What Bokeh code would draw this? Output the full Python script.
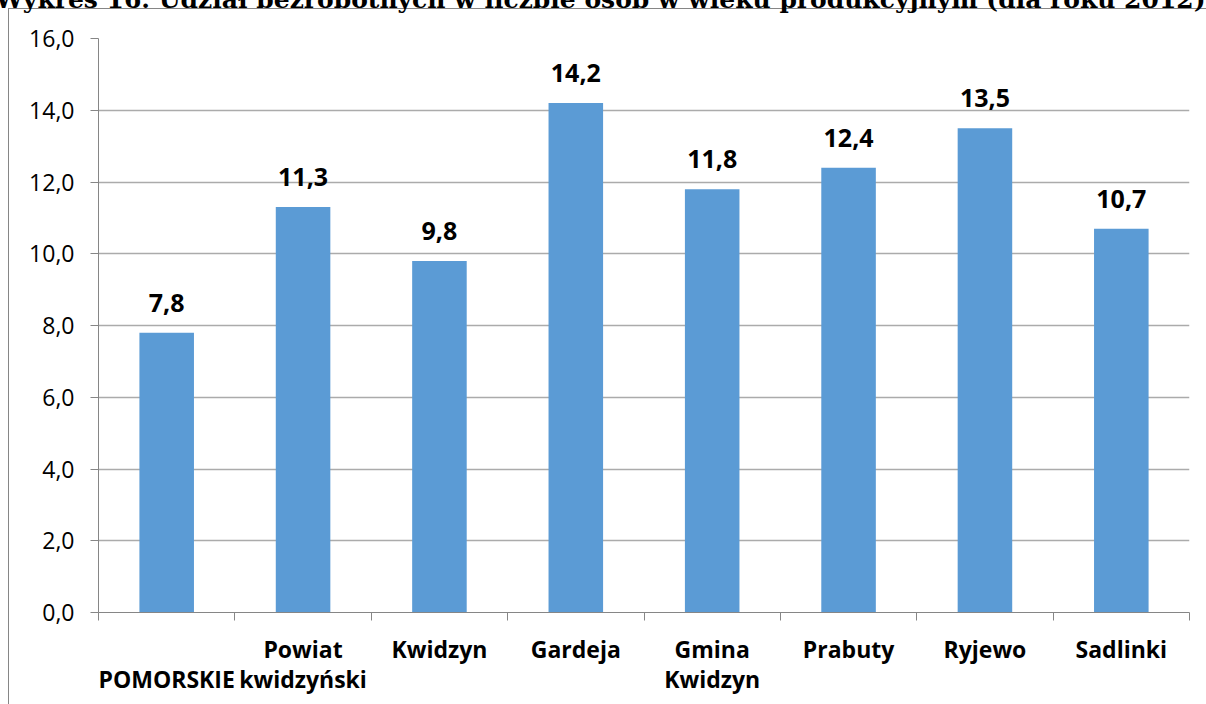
from bokeh.plotting import figure
from bokeh.models import (Range1d, FixedTicker, ColumnDataSource)
from bokeh.core.properties import value
from bokeh.embed import file_html
from bokeh.resources import INLINE

title_text = "Wykres 16. Udział bezrobotnych w liczbie osób w wieku produkcyjnym (dla roku 2012)"
categories = ["\nPOMORSKIE", "Powiat\nkwidzyński", "Kwidzyn", "Gardeja",
              "Gmina\nKwidzyn", "Prabuty", "Ryjewo", "Sadlinki"]
values = [7.8, 11.3, 9.8, 14.2, 11.8, 12.4, 13.5, 10.7]
y_ticks = [0, 2, 4, 6, 8, 10, 12, 14, 16]
y_tick_labels = ["0,0", "2,0", "4,0", "6,0", "8,0", "10,0", "12,0", "14,0", "16,0"]

centers = [i + 0.5 for i in range(len(categories))]
bar_labels = [f"{v:.1f}".replace(".", ",") for v in values]
src = ColumnDataSource(dict(x=centers, top=values, lbl=bar_labels))

FONT = "Open Sans"
AXIS_GRAY = "#868686"
GRID_GRAY = "#ABABAB"
SHIFT = 44  # canvas starts above the window so the title is cut like the reference

# outer chart box: only its left and top edges fall inside the picture
box_css = {
    "background-color": "white",
    "background-image": f"linear-gradient({AXIS_GRAY},{AXIS_GRAY}), linear-gradient({AXIS_GRAY},{AXIS_GRAY})",
    "background-size": "1px 100%, 100% 1px",
    "background-position": f"8px {8 + SHIFT}px, 8px {8 + SHIFT}px",
    "background-repeat": "no-repeat",
}

p = figure(width=1206, height=704 + SHIFT, output_backend="svg", toolbar_location=None,
           x_range=Range1d(0, len(categories)), y_range=Range1d(0, 16),
           min_border_left=98, min_border_right=17, min_border_top=38 + SHIFT,
           min_border_bottom=92, styles=box_css, margin=(-SHIFT, 0, 0, 0))
p.outline_line_color = None
p.background_fill_color = "white"
p.border_fill_color = None

p.title.text = title_text
p.title.align = "right"
p.title.offset = -16
p.title.standoff = 50
p.title.text_font = "DejaVu Serif"
p.title.text_font_style = "bold"
p.title.text_font_size = "25px"
p.title.text_color = "black"

p.vbar(x="x", top="top", width=0.4, source=src, color="#5B9BD5", line_color=None)
p.text(x="x", y="top", text="lbl", source=src, text_align="center",
       text_baseline="alphabetic", y_offset=-30, text_font=value(FONT),
       text_font_style="bold", text_font_size="25px", text_color="black")

# x axis
xa = p.xaxis[0]
xa.ticker = FixedTicker(ticks=centers, minor_ticks=list(range(len(categories) + 1)))
xa.major_label_overrides = {c: lab for c, lab in zip(centers, categories)}
xa.major_tick_out = 0
xa.major_tick_in = 0
xa.minor_tick_out = 8
xa.minor_tick_in = 0
xa.minor_tick_line_color = AXIS_GRAY
xa.axis_line_color = AXIS_GRAY
xa.major_label_standoff = 12
xa.major_label_text_font = FONT
xa.major_label_text_font_style = "bold"
xa.major_label_text_font_size = "23px"
xa.major_label_text_line_height = 0.95
xa.major_label_text_color = "black"

# y axis
ya = p.yaxis[0]
ya.ticker = FixedTicker(ticks=y_ticks)
ya.major_label_overrides = {t: lab for t, lab in zip(y_ticks, y_tick_labels)}
ya.major_tick_out = 8
ya.major_tick_in = 0
ya.minor_tick_out = 0
ya.minor_tick_in = 0
ya.major_tick_line_color = AXIS_GRAY
ya.axis_line_color = AXIS_GRAY
ya.major_label_standoff = 16
ya.major_label_text_font = FONT
ya.major_label_text_font_size = "23px"
ya.major_label_text_color = "black"

p.xgrid.visible = False
p.ygrid.ticker = FixedTicker(ticks=y_ticks)
p.ygrid.grid_line_color = GRID_GRAY
p.ygrid.grid_line_width = 1.3

open("out.html", "w").write(file_html(p, INLINE))
